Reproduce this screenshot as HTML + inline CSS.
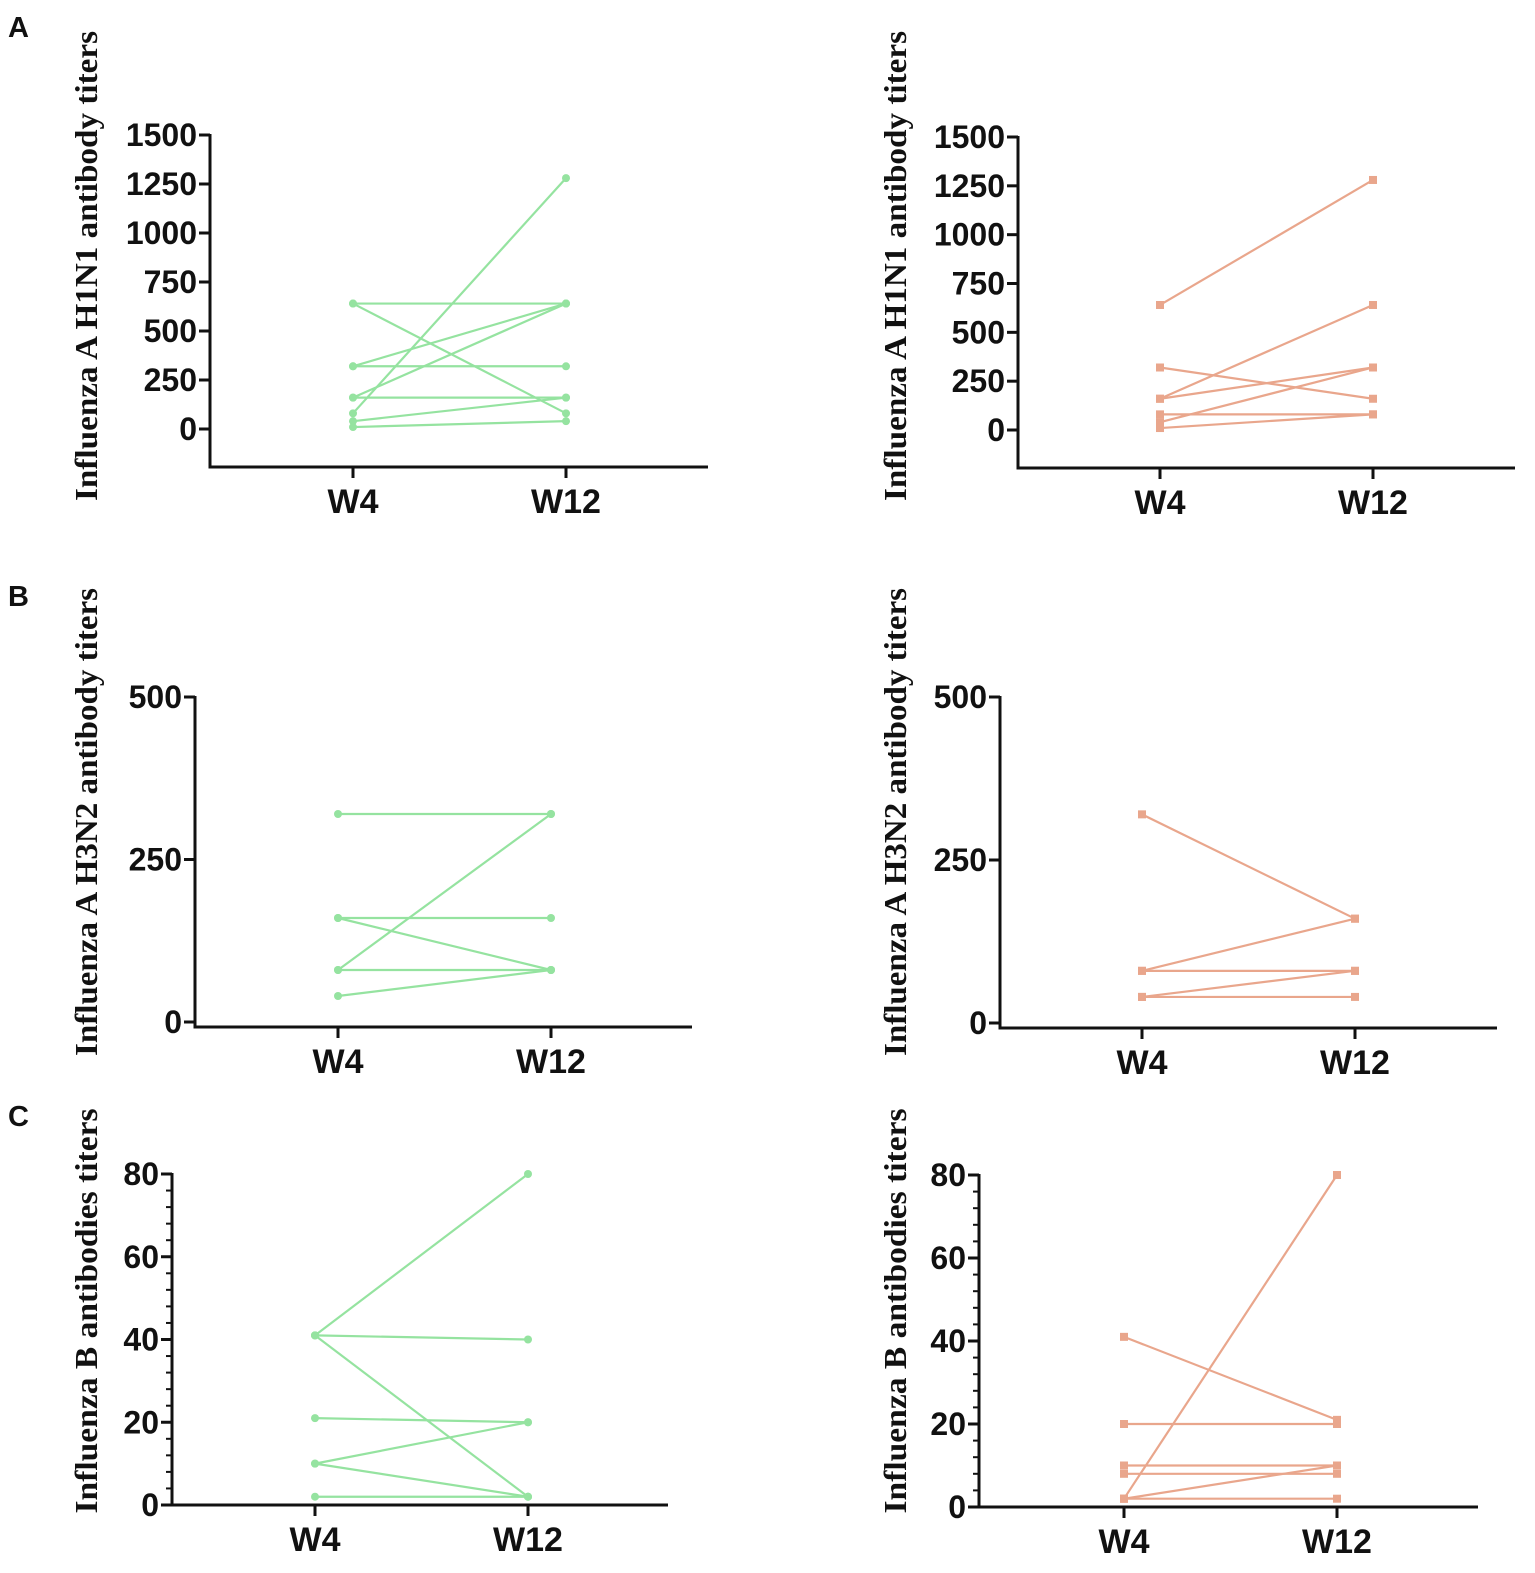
<!DOCTYPE html>
<html><head><meta charset="utf-8"><style>
html,body{margin:0;padding:0;background:#fff;}
svg{display:block;}
.tick{font-family:"Liberation Sans",Arial,sans-serif;font-weight:bold;font-size:32px;fill:#111;}
.xl{font-family:"Liberation Sans",Arial,sans-serif;font-weight:bold;font-size:34px;fill:#111;}
.yt{font-family:"Liberation Serif","Times New Roman",serif;font-weight:bold;font-size:32px;fill:#111;}
.pl{font-family:"Liberation Sans",Arial,sans-serif;font-weight:bold;font-size:29px;fill:#111;}
</style></head><body>
<svg id="fig" width="1535" height="1573" viewBox="0 0 1535 1573" xmlns="http://www.w3.org/2000/svg">
<text class="pl" x="8" y="37">A</text>
<text class="pl" x="8" y="606">B</text>
<text class="pl" x="8" y="1126">C</text>
</svg>
<script>
const categories = ["W4", "W12"];
const h1n1GreenW4  = [640, 640, 320, 160, 80, 320, 160, 40, 10];
const h1n1GreenW12 = [640, 80, 640, 640, 1280, 320, 160, 160, 40];
const h1n1OrangeW4  = [640, 160, 320, 160, 40, 80, 10];
const h1n1OrangeW12 = [1280, 640, 160, 320, 320, 80, 80];
const h3n2GreenW4  = [320, 160, 160, 80, 80, 40];
const h3n2GreenW12 = [320, 160, 80, 320, 80, 80];
const h3n2OrangeW4  = [320, 80, 80, 40, 40];
const h3n2OrangeW12 = [160, 160, 80, 80, 40];
const fluBGreenW4  = [41, 41, 41, 21, 10, 10, 2];
const fluBGreenW12 = [80, 40, 2, 20, 20, 2, 2];
const fluBOrangeW4  = [2, 41, 20, 10, 8, 2, 2];
const fluBOrangeW12 = [80, 21, 20, 10, 8, 10, 2];
const h1n1Ticks = [0, 250, 500, 750, 1000, 1250, 1500];
const h3n2Ticks = [0, 250, 500];
const fluBTicks = [0, 20, 40, 60, 80];

const NS = "http://www.w3.org/2000/svg";
const svg = document.getElementById("fig");
const GREEN = "#95e3a0", ORANGE = "#e9a68c";

function mk(tag, attrs, parent) {
  const e = document.createElementNS(NS, tag);
  for (const k in attrs) e.setAttribute(k, attrs[k]);
  (parent || svg).appendChild(e);
  return e;
}

function panel(p) {
  const g = mk("g", {});
  
  
  const vmax = p.ticks[p.ticks.length - 1];
  const y = v => p.y0 - (v / vmax) * (p.y0 - p.yTop);
  const x = i => i === 0 ? p.xW4 : p.xW12;
  const ya = mk("line", {x1: p.ax, y1: y(vmax) - 1, x2: p.ax, y2: p.axB, stroke: "#111", "stroke-width": 3}, g);
  
  
  const xa = mk("line", {x1: p.ax - 1.5, y1: p.axB, x2: p.xEnd, y2: p.axB, stroke: "#111", "stroke-width": 3}, g);
  
  
  if (p.minor) {
    for (let v = 0; v <= vmax; v += p.minor) {
      mk("line", {x1: p.ax - 6, y1: y(v), x2: p.ax, y2: y(v), stroke: "#111", "stroke-width": 2}, g);
    }
  }
  p.ticks.forEach(v => {
    mk("line", {x1: p.ax - 11, y1: y(v), x2: p.ax, y2: y(v), stroke: "#111", "stroke-width": 3}, g);
    const t = mk("text", {x: p.ax - 13, y: y(v) + 11, "text-anchor": "end", class: "tick"}, g);
    t.textContent = v;
    
    
  });
  categories.forEach((c, i) => {
    mk("line", {x1: x(i), y1: p.axB, x2: x(i), y2: p.axB + 11, stroke: "#111", "stroke-width": 3}, g);
    const t = mk("text", {x: x(i), y: p.axB + 46, "text-anchor": "middle", class: "xl"}, g);
    t.textContent = c;
    
    
  });
  const yt = mk("text", {x: 0, y: 0, "text-anchor": "middle", class: "yt", textLength: p.titleLen, lengthAdjust: "spacingAndGlyphs", transform: `translate(${p.titleX},${p.titleY}) rotate(-90)`}, g);
  yt.textContent = p.title;
  
  
  p.w4.forEach((a, k) => {
    const b = p.w12[k];
    const l = mk("line", {x1: x(0), y1: y(a), x2: x(1), y2: y(b), stroke: p.color, "stroke-width": 2.2}, g);
    
    
    [[0, a], [1, b]].forEach(([i, v]) => {
      let m;
      if (p.square) m = mk("rect", {x: x(i) - 4, y: y(v) - 4, width: 8, height: 8, fill: p.color}, g);
      else m = mk("circle", {cx: x(i), cy: y(v), r: 4, fill: p.color}, g);
      
      
    });
  });
}

const T1 = "Influenza A H1N1 antibody titers", T2 = "Influenza A H3N2 antibody titers", T3 = "Influenza B antibodies titers";
panel({name: "h1n1-green-chart", ticks: h1n1Ticks, w4: h1n1GreenW4, w12: h1n1GreenW12, color: GREEN, square: false,
  ax: 210, y0: 429, yTop: 135, axB: 467, xW4: 353, xW12: 566, xEnd: 708, title: T1, titleX: 97, titleY: 266, titleLen: 470});
panel({name: "h1n1-orange-chart", ticks: h1n1Ticks, w4: h1n1OrangeW4, w12: h1n1OrangeW12, color: ORANGE, square: true,
  ax: 1018, y0: 430, yTop: 137, axB: 468, xW4: 1160, xW12: 1373, xEnd: 1515, title: T1, titleX: 906, titleY: 266, titleLen: 470});
panel({name: "h3n2-green-chart", ticks: h3n2Ticks, w4: h3n2GreenW4, w12: h3n2GreenW12, color: GREEN, square: false,
  ax: 195, y0: 1022, yTop: 697, axB: 1027, xW4: 338, xW12: 551, xEnd: 692, title: T2, titleX: 97, titleY: 822, titleLen: 468});
panel({name: "h3n2-orange-chart", ticks: h3n2Ticks, w4: h3n2OrangeW4, w12: h3n2OrangeW12, color: ORANGE, square: true,
  ax: 1000, y0: 1023, yTop: 697, axB: 1028, xW4: 1142, xW12: 1355, xEnd: 1497, title: T2, titleX: 906, titleY: 822, titleLen: 468});
panel({name: "flub-green-chart", ticks: fluBTicks, w4: fluBGreenW4, w12: fluBGreenW12, color: GREEN, square: false, minor: 4,
  ax: 172, y0: 1505, yTop: 1174, axB: 1505, xW4: 315, xW12: 528, xEnd: 668, title: T3, titleX: 97, titleY: 1311, titleLen: 405});
panel({name: "flub-orange-chart", ticks: fluBTicks, w4: fluBOrangeW4, w12: fluBOrangeW12, color: ORANGE, square: true, minor: 4,
  ax: 979, y0: 1507, yTop: 1175, axB: 1507, xW4: 1124, xW12: 1337, xEnd: 1478, title: T3, titleX: 906, titleY: 1311, titleLen: 405});
</script>
</body></html>
